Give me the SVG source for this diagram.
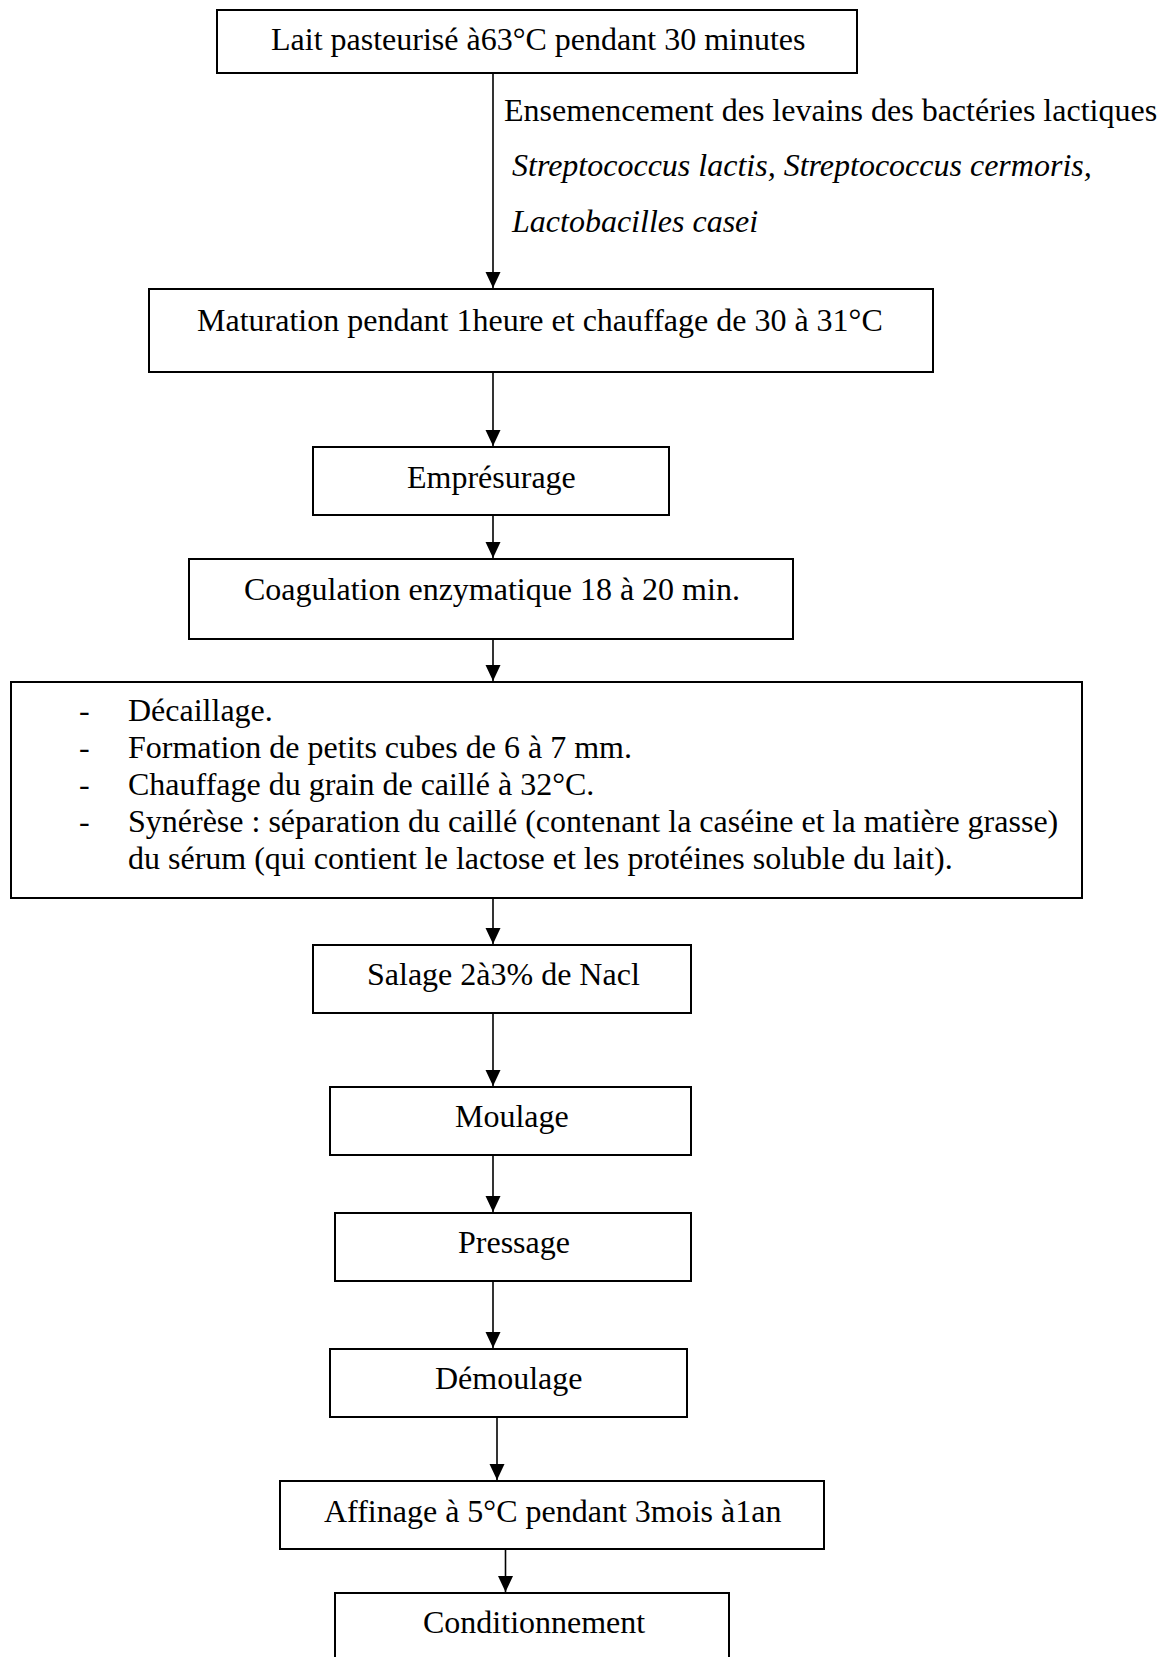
<svg xmlns="http://www.w3.org/2000/svg" width="1168" height="1657" viewBox="0 0 1168 1657">
<defs>
<style>
.box{fill:#fff;stroke:#000;stroke-width:2}
.t{font-family:"Liberation Serif","Times New Roman",serif;font-size:32px;fill:#000}
.i{font-style:italic}
.c{stroke:#000;stroke-width:1.6;fill:none}
</style>
<marker id="ah" markerUnits="userSpaceOnUse" markerWidth="16" markerHeight="16" viewBox="0 0 16 16" refX="16" refY="8" orient="auto">
<path d="M0,0.5 L16,8 L0,15.5 z" fill="#000"/>
</marker>
</defs>
<rect width="1168" height="1657" fill="#fff"/>
<g id="connectors">
<line class="c" x1="493" y1="73" x2="493" y2="288" marker-end="url(#ah)"/>
<line class="c" x1="493" y1="372" x2="493" y2="446" marker-end="url(#ah)"/>
<line class="c" x1="493" y1="515" x2="493" y2="558" marker-end="url(#ah)"/>
<line class="c" x1="493" y1="639" x2="493" y2="681" marker-end="url(#ah)"/>
<line class="c" x1="493" y1="898" x2="493" y2="944" marker-end="url(#ah)"/>
<line class="c" x1="493" y1="1013" x2="493" y2="1086" marker-end="url(#ah)"/>
<line class="c" x1="493" y1="1155" x2="493" y2="1212" marker-end="url(#ah)"/>
<line class="c" x1="493" y1="1281" x2="493" y2="1348" marker-end="url(#ah)"/>
<line class="c" x1="497" y1="1417" x2="497" y2="1480" marker-end="url(#ah)"/>
<line class="c" x1="505.5" y1="1549" x2="505.5" y2="1592" marker-end="url(#ah)"/>
</g>
<g id="label-ensemencement">
<text class="t" x="504" y="121">Ensemencement des levains des bactéries lactiques</text>
<text class="t i" x="512" y="176">Streptococcus lactis, Streptococcus cermoris,</text>
<text class="t i" x="512" y="232">Lactobacilles casei</text>
</g>
<g id="n1">
<rect class="box" x="217" y="10" width="640" height="63"/>
<text class="t" x="271" y="50">Lait pasteurisé à63°C pendant 30 minutes</text>
</g>
<g id="n2">
<rect class="box" x="149" y="289" width="784" height="83"/>
<text class="t" x="197" y="331">Maturation pendant 1heure et chauffage de 30 à 31°C</text>
</g>
<g id="n3">
<rect class="box" x="313" y="447" width="356" height="68"/>
<text class="t" x="407" y="488">Emprésurage</text>
</g>
<g id="n4">
<rect class="box" x="189" y="559" width="604" height="80"/>
<text class="t" x="244" y="600">Coagulation enzymatique 18 à 20 min.</text>
</g>
<g id="n5">
<rect class="box" x="11" y="682" width="1071" height="216"/>
<text class="t" x="79" y="721">-</text>
<text class="t" x="128" y="721">Décaillage.</text>
<text class="t" x="79" y="758">-</text>
<text class="t" x="128" y="758">Formation de petits cubes de 6 à 7 mm.</text>
<text class="t" x="79" y="795">-</text>
<text class="t" x="128" y="795">Chauffage du grain de caillé à 32°C.</text>
<text class="t" x="79" y="832">-</text>
<text class="t" x="128" y="832">Synérèse : séparation du caillé (contenant la caséine et la matière grasse)</text>
<text class="t" x="128" y="869">du sérum (qui contient le lactose et les protéines soluble du lait).</text>
</g>
<g id="n6">
<rect class="box" x="313" y="945" width="378" height="68"/>
<text class="t" x="367" y="985">Salage 2à3% de Nacl</text>
</g>
<g id="n7">
<rect class="box" x="330" y="1087" width="361" height="68"/>
<text class="t" x="455" y="1127">Moulage</text>
</g>
<g id="n8">
<rect class="box" x="335" y="1213" width="356" height="68"/>
<text class="t" x="458" y="1253">Pressage</text>
</g>
<g id="n9">
<rect class="box" x="330" y="1349" width="357" height="68"/>
<text class="t" x="435" y="1389">Démoulage</text>
</g>
<g id="n10">
<rect class="box" x="280" y="1481" width="544" height="68"/>
<text class="t" x="324" y="1522">Affinage à 5°C pendant 3mois à1an</text>
</g>
<g id="n11">
<rect class="box" x="335" y="1593" width="394" height="80"/>
<text class="t" x="423" y="1633">Conditionnement</text>
</g>
</svg>
